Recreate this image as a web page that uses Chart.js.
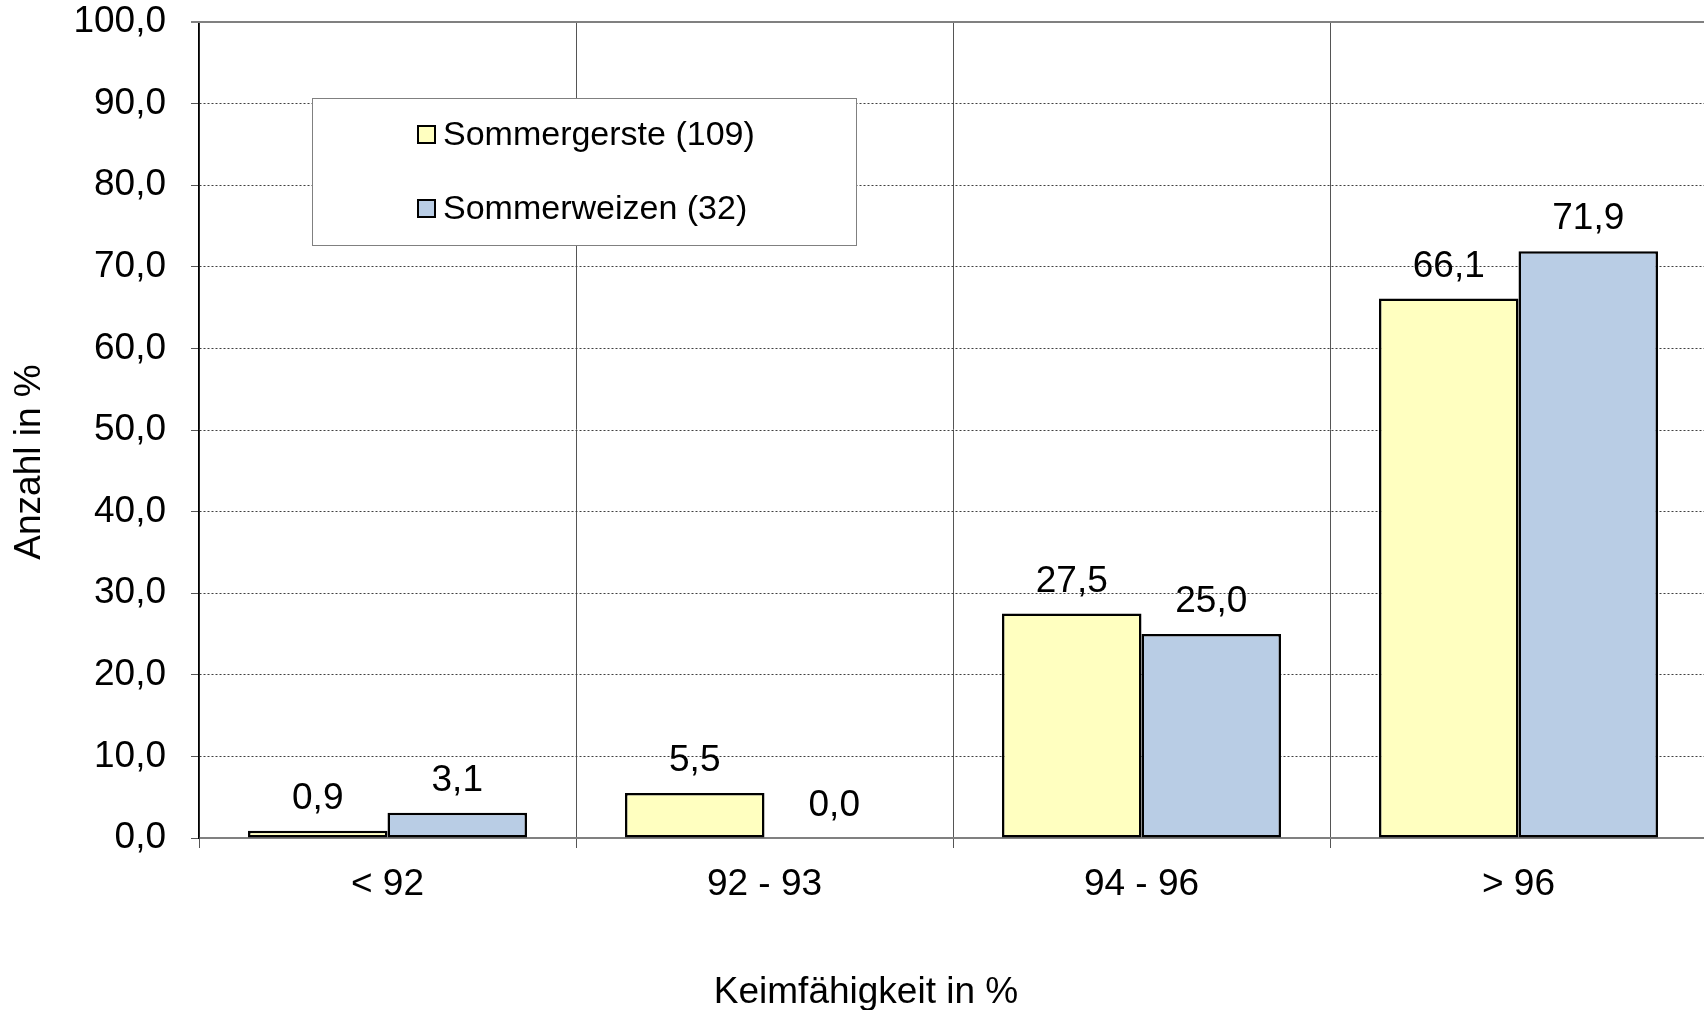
<!DOCTYPE html>
<html>
<head>
<meta charset="utf-8">
<script src="https://cdn.jsdelivr.net/npm/chart.js@4"></script>
<style>
  html, body { margin: 0; padding: 0; background: #fff; overflow: hidden; }
  #wrap { width: 1708px; height: 1010px; }
</style>
</head>
<body>
<div id="wrap"><canvas id="chart"></canvas></div>
<script>
// Daten
const kategorien = ['< 92', '92 - 93', '94 - 96', '> 96'];
const sommergerste = [0.9, 5.5, 27.5, 66.1];
const sommerweizen = [3.1, 0.0, 25.0, 71.9];
const yTicks = [0, 10, 20, 30, 40, 50, 60, 70, 80, 90, 100];
const serienNamen = ['Sommergerste (109)', 'Sommerweizen (32)'];

const FONT = 'Liberation Sans, Arial, sans-serif';
const fmt = v => v.toFixed(1).replace('.', ',');

// Werte über den Balken
const wertePlugin = {
  id: 'werte',
  afterDatasetsDraw(chart) {
    const ctx = chart.ctx;
    ctx.save();
    ctx.font = '37px ' + FONT;
    ctx.fillStyle = '#000';
    ctx.textAlign = 'center';
    ctx.textBaseline = 'middle';
    chart.data.datasets.forEach((ds, i) => {
      chart.getDatasetMeta(i).data.forEach((bar, j) => {
        ctx.fillText(fmt(ds.data[j]), bar.x, bar.y - 32);
      });
    });
    ctx.restore();
  }
};

// Legende im Diagramm, Achsentitel, obere Linie
const extrasPlugin = {
  id: 'extras',
  afterDraw(chart) {
    const ctx = chart.ctx;
    const area = chart.chartArea;
    ctx.save();
    // obere Rahmenlinie
    ctx.strokeStyle = '#808080';
    ctx.lineWidth = 2;
    ctx.beginPath();
    ctx.moveTo(area.left - 8, area.top);
    ctx.lineTo(area.right, area.top);
    ctx.stroke();

    // Legende
    ctx.fillStyle = '#fff';
    ctx.fillRect(312, 98, 544, 147);
    ctx.strokeStyle = '#808080';
    ctx.lineWidth = 1;
    ctx.strokeRect(312.5, 98.5, 544, 147);
    const zeilen = [135, 209];
    ctx.font = '34px ' + FONT;
    ctx.textBaseline = 'middle';
    ctx.textAlign = 'left';
    chart.data.datasets.forEach((ds, i) => {
      const y = zeilen[i];
      ctx.fillStyle = ds.backgroundColor;
      ctx.fillRect(418, y - 9, 17, 17);
      ctx.strokeStyle = '#000';
      ctx.lineWidth = 2;
      ctx.strokeRect(418, y - 9, 17, 17);
      ctx.fillStyle = '#000';
      ctx.fillText(ds.label, 443, y + 1);
    });

    // Achsentitel
    ctx.font = '37px ' + FONT;
    ctx.fillStyle = '#000';
    ctx.textAlign = 'center';
    ctx.fillText('Keimfähigkeit in %', 866, 993);
    ctx.translate(30, 462);
    ctx.rotate(-Math.PI / 2);
    ctx.fillText('Anzahl in %', 0, 0);
    ctx.restore();
  }
};

new Chart(document.getElementById('chart'), {
  type: 'bar',
  data: {
    labels: kategorien,
    datasets: [
      {
        label: serienNamen[0],
        data: sommergerste,
        backgroundColor: '#FFFFC0',
        borderColor: '#000',
        borderWidth: 2.5,
        borderSkipped: false
      },
      {
        label: serienNamen[1],
        data: sommerweizen,
        backgroundColor: '#B9CDE5',
        borderColor: '#000',
        borderWidth: 2.5,
        borderSkipped: false
      }
    ]
  },
  options: {
    responsive: true,
    maintainAspectRatio: false,
    animation: false,
    layout: { padding: { top: 0, right: 1, left: 0, bottom: 0 } },
    datasets: { bar: { categoryPercentage: 0.74, barPercentage: 1.0 } },
    plugins: {
      legend: { display: false },
      tooltip: { enabled: false }
    },
    scales: {
      x: {
        afterFit: s => { s.height = 172; },
        grid: {
          offset: true,
          color: '#555',
          lineWidth: 1,
          tickLength: 10,
          tickColor: '#555'
        },
        border: { color: '#808080', width: 2 },
        ticks: {
          color: '#000',
          font: { size: 37, family: FONT },
          padding: 15,
          maxRotation: 0
        }
      },
      y: {
        min: 0,
        max: 100,
        afterFit: s => { s.width = 199; s.paddingTop = 22; s.paddingBottom = 0; },
        afterBuildTicks: s => { s.ticks = yTicks.map(v => ({ value: v })); },
        grid: {
          color: c => (c.tick && (c.tick.value === 0 || c.tick.value === 100)) ? 'rgba(0,0,0,0)' : '#404040',
          lineWidth: 1,
          tickLength: 8,
          tickColor: '#555',
          tickBorderDash: []
        },
        border: { color: '#000', width: 1.5, dash: [2, 2] },
        ticks: {
          color: '#000',
          font: { size: 37, family: FONT },
          padding: 25,
          callback: v => fmt(v)
        }
      }
    }
  },
  plugins: [wertePlugin, extrasPlugin]
});
</script>
</body>
</html>
